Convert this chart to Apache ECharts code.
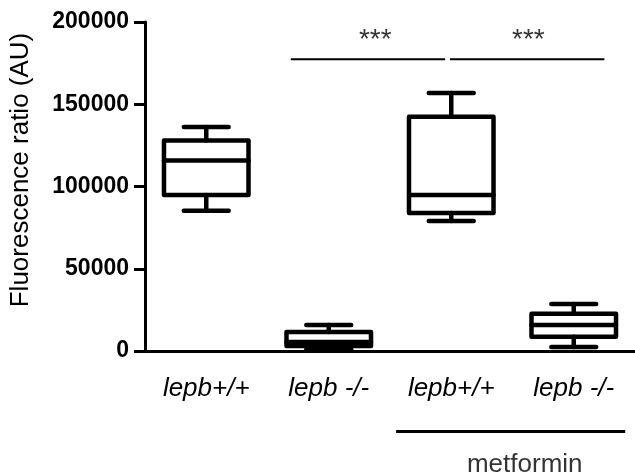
<!DOCTYPE html>
<html>
<head>
<meta charset="utf-8">
<script src="https://cdn.jsdelivr.net/npm/echarts@6/dist/echarts.min.js"></script>
<style>html,body{margin:0;padding:0;background:#fff}#c{width:635px;height:476px}</style>
</head>
<body>
<div id="c"></div>
<script>
// ---- data ----
const categories = ['lepb+/+', 'lepb -/-', 'lepb+/+', 'lepb -/-'];
const whiskerMin = [85300, 1000, 79100, 2500];
const q1 = [94800, 3000, 83900, 8700];
const median = [115800, 5500, 94800, 15800];
const q3 = [128000, 11500, 142400, 22600];
const whiskerMax = [136200, 15800, 156800, 28500];
const yTicks = [0, 50000, 100000, 150000, 200000];
// significance brackets (x in category units, y in data units)
const sigLine1 = [[0.69, 177300], [1.95, 177300]];
const sigLine2 = [[1.99, 177300], [3.25, 177300]];
const sigLabels = [[1.38, 189000, '***'], [2.63, 189000, '***']];
const metforminLine = [[1.55, -49000], [3.42, -49000]];
const metforminLabel = [[2.60, -69000, 'metformin']];

const FONT = '"Liberation Sans", Arial, Helvetica, sans-serif';
const boxData = categories.map((c, i) => [i, whiskerMin[i], q1[i], median[i], q3[i], whiskerMax[i]]);

const chart = echarts.init(document.getElementById('c'), null, {renderer: 'canvas'});

function renderBox(params, api) {
  const i = api.value(0);
  const cx = api.coord([i, 0])[0];
  const bw = api.size([1, 0])[0];
  const hb = bw * 0.345, hw = bw * 0.183;
  const y = k => api.coord([i, api.value(k)])[1];
  const yMin = y(1), yQ1 = y(2), yMed = y(3), yQ3 = y(4), yMax = y(5);
  const st = {stroke: '#000', fill: 'none', lineWidth: 4.5, lineJoin: 'round', lineCap: 'round'};
  return {
    type: 'group',
    children: [
      {type: 'line', shape: {x1: cx, y1: yQ3, x2: cx, y2: yMax}, style: st},
      {type: 'line', shape: {x1: cx, y1: yQ1, x2: cx, y2: yMin}, style: st},
      {type: 'line', shape: {x1: cx - hw, y1: yMax, x2: cx + hw, y2: yMax}, style: st},
      {type: 'line', shape: {x1: cx - hw, y1: yMin, x2: cx + hw, y2: yMin}, style: st},
      {type: 'rect', shape: {x: cx - hb, y: yQ3, width: 2 * hb, height: yQ1 - yQ3}, style: st},
      {type: 'line', shape: {x1: cx - hb, y1: yMed, x2: cx + hb, y2: yMed}, style: st}
    ]
  };
}

chart.setOption({
  animation: false,
  backgroundColor: '#fff',
  grid: {left: 145, top: 22, width: 492, height: 329, containLabel: false},
  xAxis: [
    {
      type: 'category', data: categories, boundaryGap: true,
      axisLine: {onZero: false, lineStyle: {color: '#000', width: 3}},
      axisTick: {alignWithLabel: true, length: 10, lineStyle: {color: '#000', width: 3}},
      axisLabel: {color: '#000', fontFamily: FONT, fontSize: 26, fontStyle: 'italic', margin: 25},
      splitLine: {show: false}
    },
    {type: 'value', min: -0.5, max: 3.5, show: false, position: 'bottom'}
  ],
  yAxis: {
    type: 'value', min: 0, max: 200000, interval: 50000,
    name: 'Fluorescence ratio (AU)', nameLocation: 'middle', nameGap: 111, nameRotate: 90,
    nameTextStyle: {color: '#000', fontFamily: FONT, fontSize: 26, padding: [0, 0, 0, 33]},
    axisLine: {show: true, onZero: false, lineStyle: {color: '#000', width: 3}},
    axisTick: {show: true, length: 11, lineStyle: {color: '#000', width: 3}},
    axisLabel: {color: '#000', fontFamily: FONT, fontSize: 23, fontWeight: 'bold', margin: 16,
      formatter: v => yTicks.indexOf(v) >= 0 ? String(v) : ''},
    splitLine: {show: false}
  },
  series: [
    {type: 'custom', xAxisIndex: 0, renderItem: renderBox, data: boxData, clip: false, encode: {x: 0, y: [1, 2, 3, 4, 5]}},
    {type: 'line', xAxisIndex: 1, data: sigLine1, symbol: 'none', clip: false, lineStyle: {color: '#000', width: 2}},
    {type: 'line', xAxisIndex: 1, data: sigLine2, symbol: 'none', clip: false, lineStyle: {color: '#000', width: 2}},
    {type: 'line', xAxisIndex: 1, data: metforminLine, symbol: 'none', clip: false, lineStyle: {color: '#000', width: 3}},
    {type: 'scatter', xAxisIndex: 1, data: sigLabels, symbolSize: 0, clip: false,
      label: {show: true, position: 'inside', formatter: p => p.value[2], color: '#000', fontFamily: FONT, fontSize: 28}},
    {type: 'scatter', xAxisIndex: 1, data: metforminLabel, symbolSize: 0, clip: false,
      label: {show: true, position: 'inside', formatter: p => p.value[2], color: '#000', fontFamily: FONT, fontSize: 26}}
  ]
});
</script>
</body>
</html>
